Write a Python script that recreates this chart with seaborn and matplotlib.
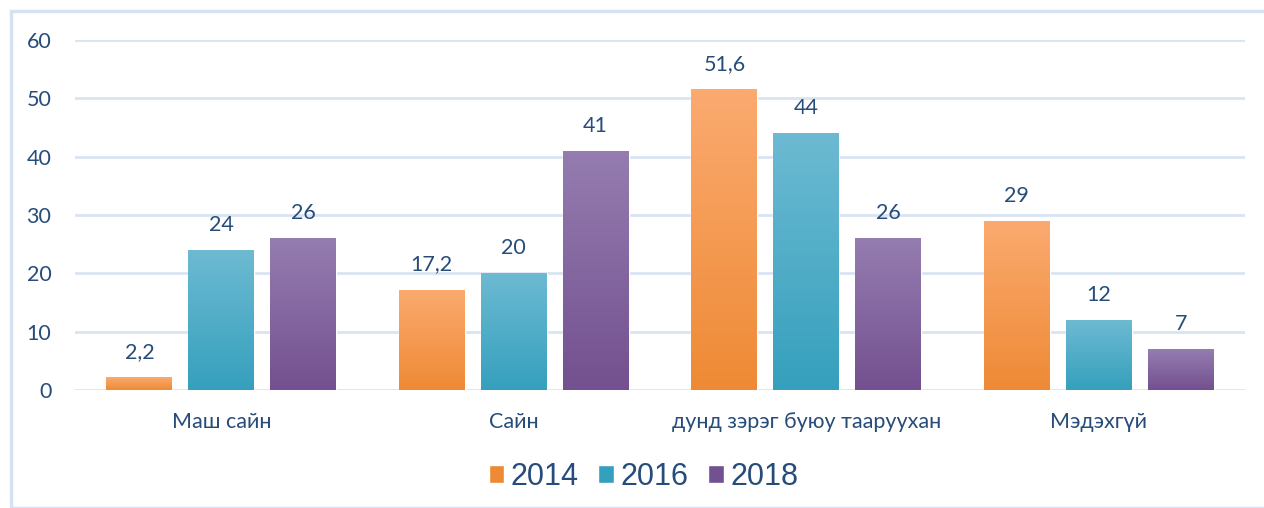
import numpy as np
import pandas as pd
import matplotlib
matplotlib.use("Agg")
import matplotlib.pyplot as plt
import seaborn as sns
from matplotlib.colors import LinearSegmentedColormap
from matplotlib.patches import Rectangle

# data
categories = ["Маш сайн", "Сайн", "дунд зэрэг буюу тааруухан", "Мэдэхгүй"]
years = ["2014", "2016", "2018"]
v2014 = [2.2, 17.2, 51.6, 29]
v2016 = [24, 20, 44, 12]
v2018 = [26, 41, 26, 7]

rows = []
for yr, vals in zip(years, [v2014, v2016, v2018]):
    for c, v in zip(categories, vals):
        rows.append({"cat": c, "year": yr, "value": v})
df = pd.DataFrame(rows)

# gradient colours (top, bottom)
grads = {
    "2014": ("#FBAA70", "#EE8A35"),
    "2016": ("#6DBAD2", "#35A0BD"),
    "2018": ("#957DB0", "#73508F"),
}
palette = {y: grads[y][1] for y in years}
text_col = "#264C7A"
grid_col = "#D9E4F2"
fs = 15.5

sns.set_style("white")
plt.rcParams["font.family"] = ["Lato", "DejaVu Sans"]

fig = plt.figure(figsize=(12.64, 5.08), dpi=100)
ax = fig.add_axes([75 / 1264, 1 - 390 / 508, 1170 / 1264, 350 / 508])

sns.barplot(data=df, x="cat", y="value", hue="year", palette=palette,
            width=0.84, gap=0.195, ax=ax, legend=True, saturation=1)

ax.set_yticks(range(0, 61, 10))
ax.yaxis.grid(True, color=grid_col, linewidth=2)
ax.set_axisbelow(True)
for s in ax.spines.values():
    s.set_visible(False)
ax.set_xlabel("")
ax.set_ylabel("")
ax.tick_params(axis="y", length=0, pad=17, labelsize=fs, labelcolor=text_col)
ax.tick_params(axis="x", length=0, pad=16, labelsize=fs, labelcolor=text_col)

# gradient fill on every bar + value labels
for cont, yr in zip(ax.containers, years):
    top, bot = grads[yr]
    cmap = LinearSegmentedColormap.from_list("g" + yr, [bot, top])
    grad = np.linspace(0, 1, 256).reshape(-1, 1)
    for bar, val in zip(cont, df[df["year"] == yr]["value"]):
        x0, w, h = bar.get_x(), bar.get_width(), bar.get_height()
        im = ax.imshow(grad, extent=[x0, x0 + w, 0, h], origin="lower",
                       cmap=cmap, aspect="auto", zorder=bar.get_zorder() + 0.1)
        im.set_clip_path(bar)
        lab = f"{val:g}".replace(".", ",")
        ax.annotate(lab, (x0 + w / 2, h), xytext=(0, 11), textcoords="offset points",
                    ha="center", va="bottom", fontsize=fs, color=text_col)
ax.set_xlim(-0.5, 3.5)
ax.set_ylim(0, 60)

# legend
handles, labels = ax.get_legend_handles_labels()
ax.get_legend().remove()
fig.legend(handles, labels, loc="center", bbox_to_anchor=(0.509, 1 - 477 / 508),
           ncol=3, frameon=False, handlelength=0.52, handleheight=0.52,
           handletextpad=0.2, columnspacing=0.65,
           prop={"family": "Liberation Sans", "size": 22}, labelcolor=text_col)

# outer border
fig.patches.append(Rectangle((11 / 1264, 0), 1.0, 1 - 11 / 508, transform=fig.transFigure,
                             fill=False, edgecolor="#D6E2F3", linewidth=2.5))

fig.savefig("out.png", dpi=100)
